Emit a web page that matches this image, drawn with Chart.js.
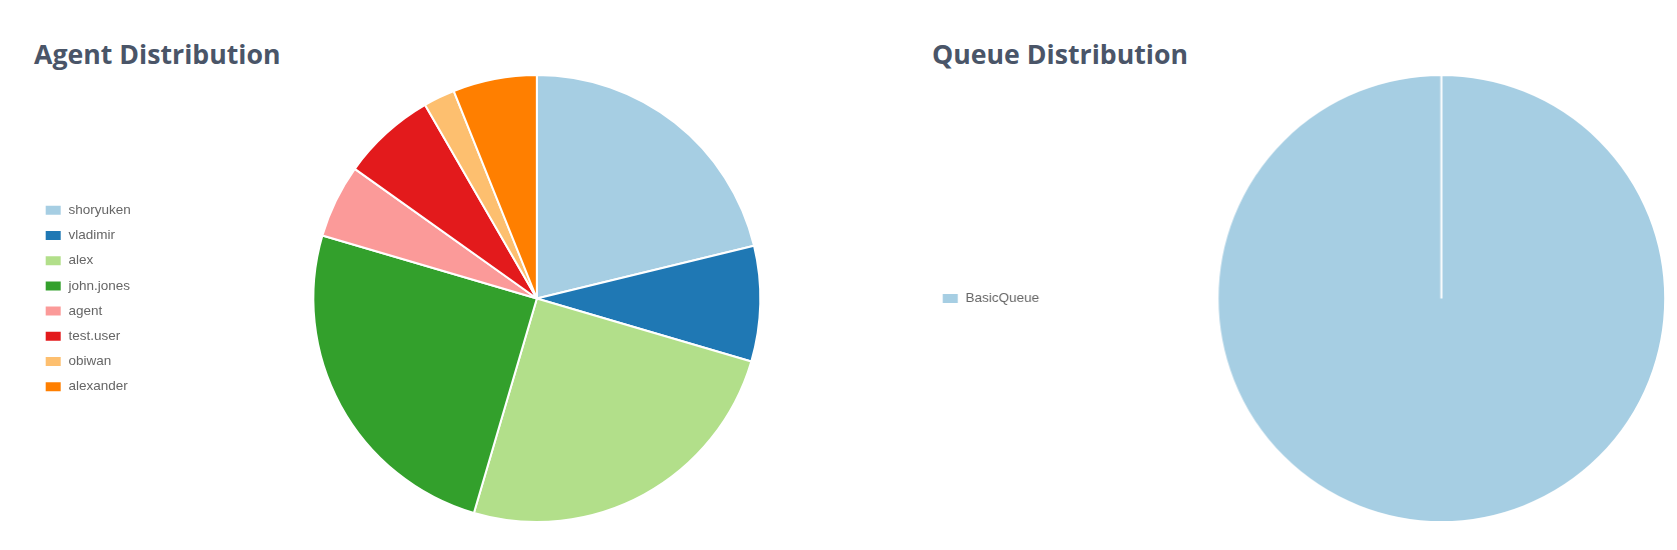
<!DOCTYPE html>
<html>
<head>
<meta charset="utf-8">
<script src="https://cdn.jsdelivr.net/npm/chart.js@4/dist/chart.umd.min.js"></script>
<style>
  body { margin: 0; background: #fff; width: 1677px; height: 550px; overflow: hidden; position: relative; }
  h2 { position: absolute; margin: 0; font: bold 26.7px "Open Sans", sans-serif; color: #4a5568; line-height: 1; }
  .box { position: absolute; }
</style>
</head>
<body>
<h2 style="left:34px; top:41px">Agent Distribution</h2>
<h2 style="left:932px; top:41px">Queue Distribution</h2>
<div class="box" style="left:33.3px; top:74px; width:861px; height:449px"><canvas id="agentChart"></canvas></div>
<div class="box" style="left:930.3px; top:74px; width:746.7px; height:449px"><canvas id="queueChart"></canvas></div>
<script>
// Agent Distribution
const agentLabels = ['shoryuken', 'vladimir', 'alex', 'john.jones', 'agent', 'test.user', 'obiwan', 'alexander'];
const agentCounts = [28, 11, 33, 33, 7, 9, 3, 8];
// Queue Distribution
const queueLabels = ['BasicQueue'];
const queueCounts = [132];

const paired = ['#a6cee3', '#1f78b4', '#b2df8a', '#33a02c', '#fb9a99', '#e31a1c', '#fdbf6f', '#ff7f00'];

// keep the legend column a fixed width so the pie sits where it should
function legendWidth(w) {
    return {
        id: 'legendWidth',
        beforeInit(chart) {
            const fit = chart.legend.fit;
            chart.legend.fit = function () {
                fit.call(this);
                this.width = w;
            };
        }
    };
}

function pieOptions() {
    return {
        responsive: true,
        maintainAspectRatio: false,
        animation: false,
        layout: { padding: 0 },
        plugins: {
            legend: {
                position: 'left',
                labels: {
                    boxWidth: 17,
                    boxHeight: 11,
                    padding: 11.7,
                    color: '#666',
                    font: { family: 'Arial, "Liberation Sans", sans-serif', size: 13.5 }
                }
            },
            tooltip: { enabled: false }
        }
    };
}

new Chart(document.getElementById('agentChart'), {
    type: 'pie',
    data: {
        labels: agentLabels,
        datasets: [{
            data: agentCounts,
            backgroundColor: paired,
            borderColor: '#fff',
            borderWidth: 2
        }]
    },
    options: pieOptions(),
    plugins: [legendWidth(146.7)]
});

new Chart(document.getElementById('queueChart'), {
    type: 'pie',
    data: {
        labels: queueLabels,
        datasets: [{
            data: queueCounts,
            backgroundColor: paired.slice(0, 1),
            borderColor: '#fff',
            borderWidth: 2
        }]
    },
    options: pieOptions(),
    plugins: [legendWidth(274.7)]
});
</script>
</body>
</html>
